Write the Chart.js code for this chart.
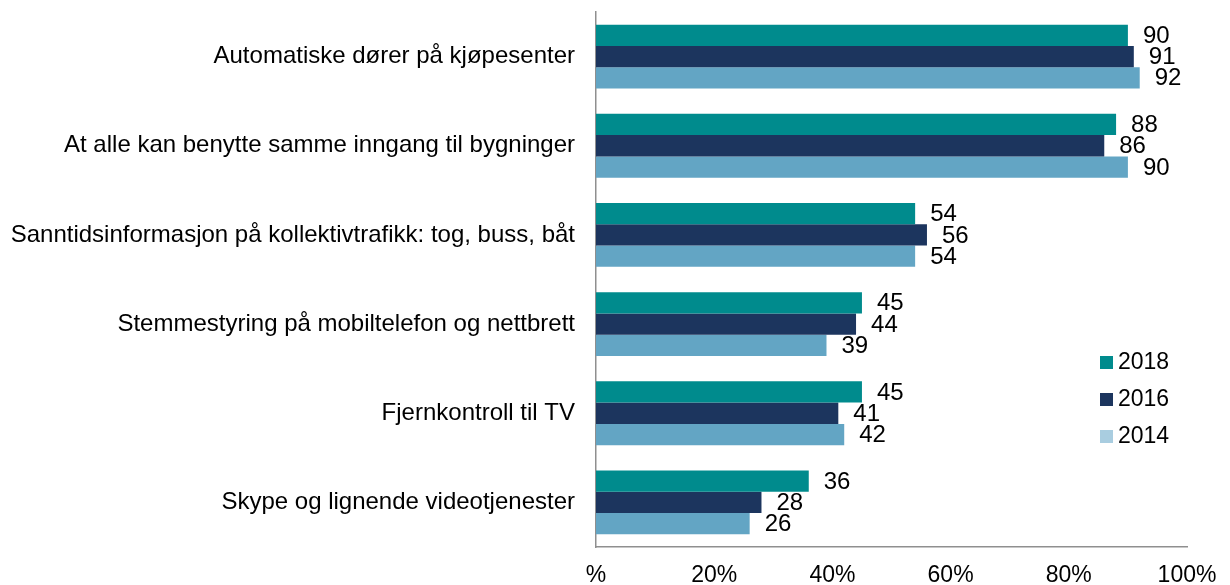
<!DOCTYPE html>
<html>
<head>
<meta charset="utf-8">
<script src="https://cdn.jsdelivr.net/npm/chart.js@4/dist/chart.umd.min.js"></script>
<style>
  body { margin: 0; background: #fff; }
</style>
</head>
<body>
<canvas id="barChart" width="1230" height="585"></canvas>
<script>
const categories = [
  "Automatiske dører på kjøpesenter",
  "At alle kan benytte samme inngang til bygninger",
  "Sanntidsinformasjon på kollektivtrafikk: tog, buss, båt",
  "Stemmestyring på mobiltelefon og nettbrett",
  "Fjernkontroll til TV",
  "Skype og lignende videotjenester"
];
const seriesNames = ["2018", "2016", "2014"];
const values2018 = [90, 88, 54, 45, 45, 36];
const values2016 = [91, 86, 56, 44, 41, 28];
const values2014 = [92, 90, 54, 39, 42, 26];
const xTicks = [0, 20, 40, 60, 80, 100];

const fontFamily = "'Liberation Sans', Arial, sans-serif";
const axisGrey = "#8f8f8f";

//bar colours and the (slightly different) legend swatch colours
const barColors = ["#008b8d", "#1c355e", "#63a5c4"];
const legendColors = ["#008b8d", "#1c355e", "#a9cde0"];

//draws the numbers just right of each bar
const valueLabels = {
  id: 'valueLabels',
  afterDatasetsDraw(chart) {
    const ctx = chart.ctx;
    ctx.save();
    ctx.font = "24px " + fontFamily;
    ctx.fillStyle = "#000";
    ctx.textAlign = "left";
    ctx.textBaseline = "middle";
    chart.data.datasets.forEach((ds, i) => {
      chart.getDatasetMeta(i).data.forEach((bar, j) => {
        ctx.fillText(ds.data[j], bar.x + 15, bar.y + 1);
      });
    });
    ctx.restore();
  }
};

//legend sits inside the plot, right side
const sideLegend = {
  id: 'sideLegend',
  afterDraw(chart) {
    const ctx = chart.ctx;
    ctx.save();
    ctx.font = "23px " + fontFamily;
    ctx.textAlign = "left";
    ctx.textBaseline = "middle";
    chart.data.datasets.forEach((ds, i) => {
      const top = 356 + i * 37;
      ctx.fillStyle = legendColors[i];
      ctx.fillRect(1100, top, 13, 13);
      ctx.fillStyle = "#000";
      ctx.fillText(ds.label, 1118, top + 7);
    });
    ctx.restore();
  }
};

const ctx = document.getElementById('barChart').getContext('2d');
const myChart = new Chart(ctx, {
  type: 'bar',
  data: {
    labels: categories,
    datasets: [
      { label: seriesNames[0], data: values2018, backgroundColor: barColors[0] },
      { label: seriesNames[1], data: values2016, backgroundColor: barColors[1] },
      { label: seriesNames[2], data: values2014, backgroundColor: barColors[2] },
    ]
  },
  options: {
    indexAxis: 'y',
    responsive: false,
    animation: false,
    layout: {
      padding: { top: 12, right: 43, bottom: 0, left: 0 }
    },
    datasets: {
      bar: {
        categoryPercentage: 0.716,
        barPercentage: 1.0,
        borderWidth: 0
      }
    },
    plugins: {
      legend: { display: false },
      tooltip: { enabled: false }
    },
    scales: {
      x: {
        min: 0,
        max: 100,
        afterBuildTicks(scale) {
          scale.ticks = xTicks.map(v => ({ value: v }));
        },
        afterFit(scale) {
          scale.height = 38;
        },
        grid: { display: false },
        border: { display: true, color: axisGrey, width: 1.5 },
        ticks: {
          padding: 7,
          color: "#000",
          font: { family: fontFamily, size: 23 },
          maxRotation: 0,
          autoSkip: false,
          callback: v => v === 0 ? '%' : v + '%'
        }
      },
      y: {
        afterFit(scale) {
          scale.width = 596;
          //drop the label-height padding so the plot starts near the top
          scale.paddingTop = 0;
          scale.paddingBottom = 0;
        },
        grid: { display: false },
        border: { display: true, color: axisGrey, width: 1.5 },
        ticks: {
          padding: 13,
          color: "#000",
          font: { family: fontFamily, size: 24 },
          autoSkip: false
        }
      }
    }
  },
  plugins: [valueLabels, sideLegend]
});
</script>
</body>
</html>
